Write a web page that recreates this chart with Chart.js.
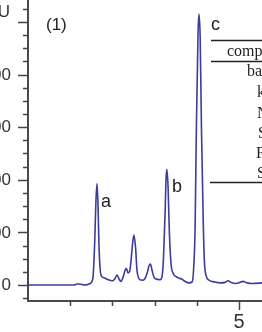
<!DOCTYPE html>
<html>
<head>
<meta charset="utf-8">
<script src="https://cdn.jsdelivr.net/npm/chart.js@4.4.0/dist/chart.umd.min.js"></script>
<style>
html,body{margin:0;padding:0;background:#fff;overflow:hidden}
</style>
</head>
<body>
<canvas id="plot" width="262" height="332"></canvas>
<script>
// retention time (min) and detector signal (mAU)
const times = [0, 0.76, 1.09, 1.16, 1.23, 1.33, 1.42, 1.49, 1.54, 1.58, 1.61, 1.635, 1.66, 1.68, 1.71, 1.74,
  1.80, 1.87, 1.94, 2.01, 2.06, 2.11, 2.16, 2.20, 2.25, 2.30, 2.33, 2.37, 2.41, 2.44, 2.48, 2.51, 2.55,
  2.58, 2.63, 2.70, 2.77, 2.82, 2.87, 2.90, 2.94, 2.99, 3.06, 3.13, 3.18, 3.21, 3.25, 3.27, 3.29, 3.32,
  3.35, 3.39, 3.44, 3.51, 3.58, 3.65, 3.72, 3.82, 3.89, 3.92, 3.96, 3.99, 4.03, 4.05, 4.08, 4.11, 4.15,
  4.18, 4.22, 4.29, 4.41, 4.55, 4.67, 4.74, 4.81, 4.93, 5.02, 5.09, 5.19, 5.33, 5.55];
const signal = [0, 0, 0, 2, 2, 0, 1, 4, 15, 80, 160, 193, 150, 80, 30, 17,
  14, 11, 9, 8, 12, 19, 11, 7, 14, 28, 32, 23, 26, 45, 80, 95, 70,
  30, 12, 9, 12, 22, 37, 40, 28, 14, 11, 10, 18, 50, 140, 200, 220, 185,
  100, 40, 22, 16, 13, 11, 7, 4, 6, 25, 110, 300, 480, 515, 470, 300, 130,
  45, 18, 9, 6, 4, 5, 8, 5, 3, 5, 7, 4, 3, 4];

const yTickValues = [0, 100, 200, 300, 400];
const yTickLabels = ['0', '100', '200', '300', '400'];
const xTickValues = [5];
const xTickLabels = ['5'];
const yUnit = 'mAU';
const panelLabel = '(1)';
const peakNames = ['a', 'b', 'c'];
const tableHeader = 'compound';
const tableRows = ['baicalin', 'kaempferol', 'Naringin', 'Scutellarin', 'Rutin', 'Sinensetin'];

const points = times.map((t, i) => ({x: t, y: signal[i]}));

const decorations = {
  id: 'decorations',
  afterDraw(chart) {
    const {ctx, chartArea, scales: {x, y}} = chart;
    ctx.save();
    ctx.strokeStyle = '#444';
    ctx.lineWidth = 1.5;
    // y tick marks
    for (let v = -25; v <= 525; v += 25) {
      const py = Math.round(y.getPixelForValue(v)) + 0.5;
      const len = v % 100 === 0 ? 10 : 5;
      ctx.beginPath();
      ctx.moveTo(chartArea.left - len, py);
      ctx.lineTo(chartArea.left, py);
      ctx.stroke();
    }
    // x tick marks
    for (let v = 1; v <= 5; v++) {
      const px = Math.round(x.getPixelForValue(v)) + 0.5;
      const len = v % 5 === 0 ? 9 : 5;
      ctx.beginPath();
      ctx.moveTo(px, chartArea.bottom);
      ctx.lineTo(px, chartArea.bottom + len);
      ctx.stroke();
    }
    // tick labels
    ctx.fillStyle = '#333';
    ctx.font = '17px "Liberation Sans", Arial, sans-serif';
    ctx.textAlign = 'right';
    ctx.textBaseline = 'middle';
    yTickValues.forEach((v, i) => {
      ctx.fillText(yTickLabels[i], 11, y.getPixelForValue(v) + 0.5);
    });
    ctx.textBaseline = 'alphabetic';
    ctx.fillText(yUnit, 10, 17);
    ctx.font = '20px "Liberation Sans", Arial, sans-serif';
    ctx.textAlign = 'center';
    xTickValues.forEach((v, i) => {
      ctx.fillText(xTickLabels[i], x.getPixelForValue(v), 328);
    });
    // panel and peak labels
    ctx.fillStyle = '#222';
    ctx.textAlign = 'left';
    ctx.font = '17px "Liberation Sans", Arial, sans-serif';
    ctx.fillText(panelLabel, 46, 30);
    ctx.font = '18px "Liberation Sans", Arial, sans-serif';
    ctx.fillText(peakNames[0], 101, 207);
    ctx.fillText(peakNames[1], 172, 192);
    ctx.fillText(peakNames[2], 211, 30);
    // compound table
    ctx.strokeStyle = '#222';
    ctx.lineWidth = 1.5;
    [[211, 40.5], [211, 61.5], [210, 182.5]].forEach(([x0, ly]) => {
      ctx.beginPath();
      ctx.moveTo(x0, ly);
      ctx.lineTo(262, ly);
      ctx.stroke();
    });
    ctx.font = '16px "Liberation Serif", "Times New Roman", serif';
    ctx.fillText(tableHeader, 227, 56);
    const rowX = [247, 257, 257, 258, 256, 257];
    const rowY = [76, 97, 118, 138, 158, 178];
    tableRows.forEach((name, i) => ctx.fillText(name, rowX[i], rowY[i]));
    ctx.restore();
  }
};

const ctx = document.getElementById('plot').getContext('2d');
const chart = new Chart(ctx, {
  type: 'line',
  data: {
    datasets: [{
      data: points,
      borderColor: '#3c3c9c',
      borderWidth: 1.6,
      pointRadius: 0,
      fill: false,
      cubicInterpolationMode: 'monotone'
    }]
  },
  options: {
    responsive: false,
    animation: false,
    devicePixelRatio: 1,
    layout: {padding: 0},
    plugins: {legend: {display: false}, tooltip: {enabled: false}},
    scales: {
      x: {
        type: 'linear',
        min: 0,
        max: 5.545,
        grid: {display: false},
        ticks: {display: false},
        border: {display: true, color: '#4a4a4a', width: 2},
        afterFit(scale) { scale.height = 31; }
      },
      y: {
        type: 'linear',
        min: -30.4,
        max: 541.8,
        grid: {display: false},
        ticks: {display: false},
        border: {display: true, color: '#4a4a4a', width: 2},
        afterFit(scale) { scale.width = 28; }
      }
    }
  },
  plugins: [decorations]
});
</script>
</body>
</html>
